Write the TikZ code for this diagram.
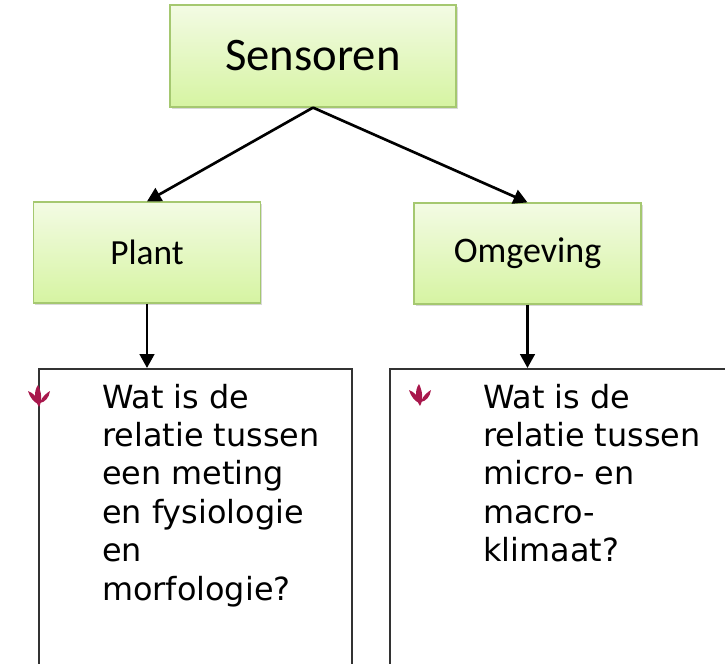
\documentclass[tikz,border=0pt]{standalone}
\usepackage{fontspec}
\usepackage{tikz}
\usetikzlibrary{arrows.meta,positioning,shadows}
\newfontfamily\boxfont{Carlito}
\newfontfamily\qfont{DejaVu Sans}
\definecolor{ink}{HTML}{000000}
\definecolor{leafline}{HTML}{A5C870}
\definecolor{leaftop}{HTML}{F3FBE4}
\definecolor{leafbot}{HTML}{D6F4A2}
\definecolor{frame}{HTML}{333333}
\definecolor{crimson}{HTML}{A8174C}

\begin{document}
\begin{tikzpicture}[x=0.75pt,y=0.75pt,
  topic/.style={draw=leafline,line width=0.9pt,top color=leaftop,bottom color=leafbot,align=center,text=ink,drop shadow={shadow xshift=1.2pt,shadow yshift=-1.8pt,opacity=0.3}},
  qframe/.style={draw=frame,line width=1.2pt,anchor=north west,minimum height=240pt},
  qtext/.style={anchor=base west,inner sep=0pt,align=left,font=\qfont\fontsize{23.9pt}{28.8pt}\selectfont},
  conn/.style={-{Triangle[length=10.5pt,width=11pt]},line width=2pt,ink},
  sprout/.pic={
    \fill[crimson] (0,0) .. controls (4,7) and (2,16) .. (-1,22) .. controls (-6,15) and (-4,6) .. (0,0);
    \fill[crimson] (-1,3) .. controls (-1,10) and (-6,14) .. (-11,16) .. controls (-9,9) and (-5,5) .. (-1,3);
    \fill[crimson] (1,4) .. controls (3,11) and (8,14) .. (11,16) .. controls (10,9) and (6,5) .. (1,4);
  }]
\clip (0,0) rectangle (725,-664);
\node[topic,minimum width=214.5pt,minimum height=76.5pt,font=\boxfont\fontsize{35pt}{40pt}\selectfont] (sens) at (313,-56) {Sensoren};
\node[topic,minimum width=170.25pt,minimum height=75.75pt,font=\boxfont\fontsize{26.5pt}{30pt}\selectfont] (plant) at (147,-252.5) {Plant};
\node[topic,minimum width=170.25pt,minimum height=75.75pt,font=\boxfont\fontsize{27pt}{30pt}\selectfont] (omg) at (527.5,-253.5) {Omgeving};
\node[qframe,minimum width=234.75pt] (planq) at (38,-368) {};
\node[qframe,minimum width=270pt] (omgq) at (389,-368) {};
% vragen (base = laatste regel)
\node[qtext] (planqt) at (102,-600) {Wat is de\\relatie tussen\\een meting\\en fysiologie\\en\\morfologie?};
\node[qtext] (omgqt) at (483,-561.6) {Wat is de\\relatie tussen\\micro- en\\macro-\\klimaat?};
\pic at (39,-407) {sprout};
\pic at (420,-406) {sprout};
\draw[conn] (sens.south)--(plant.north);
\draw[conn] (sens.south)--(omg.north);
\draw[conn] (plant.south)--(plant |- planq.north);
\draw[conn] (omg.south)--(omg |- omgq.north);
\end{tikzpicture}
\end{document}
